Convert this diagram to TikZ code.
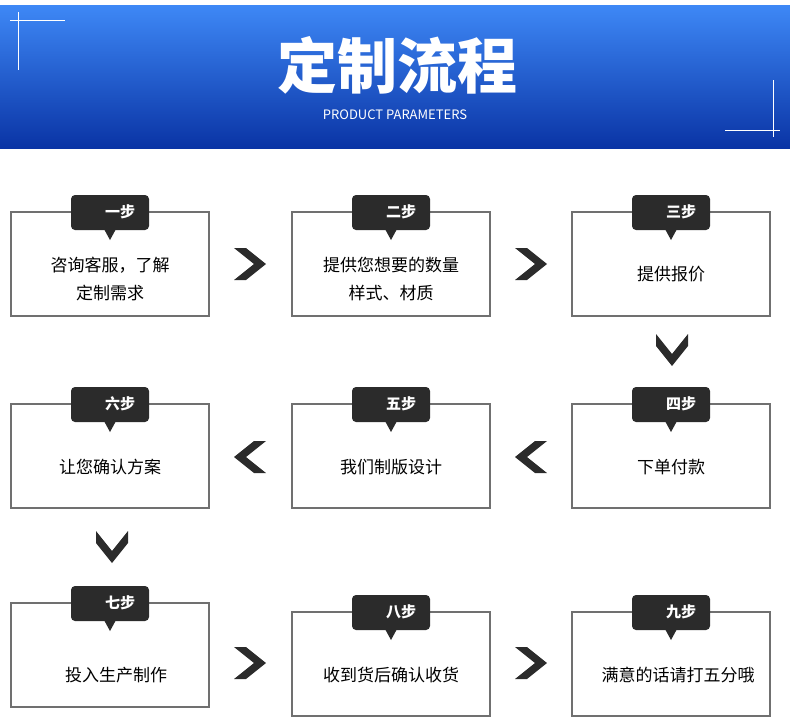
\documentclass[tikz,border=0pt]{standalone}
\usepackage{fontspec}
\setmainfont{Noto Sans CJK SC}
\definecolor{TopBlue}{RGB}{62,136,246}
\definecolor{LowBlue}{RGB}{10,52,165}
\definecolor{TabGray}{HTML}{2B2B2B}
\definecolor{BoxLine}{HTML}{707070}
\tikzset{
  stepbox/.style={draw=BoxLine, line width=1.2pt, fill=white},
  steptab/.style={fill=TabGray, rounded corners=4pt},
  steptxt/.style={font=\fontsize{15}{15}\selectfont\bfseries, text=white},
  boxtxt/.style={font=\fontsize{17}{28}\selectfont, align=center, text=black},
  chev/.style={fill=TabGray},
  deco/.style={white, line width=0.8pt}
}
% step box: center x, top y, tab label, name
\newcommand{\stepcard}[5]{%
  \draw[stepbox] (#1-99,-#2) rectangle (#1+99,-#2-104);
  \fill[steptab] (#1-39,-#2+17) rectangle (#1+39,-#2-18);
  \fill[TabGray] (#1-6,-#2-17) -- (#1+6,-#2-17) -- (#1,-#2-28) -- cycle;
  \node[steptxt] (#4tab) at (#1+10,-#2) {#3};
  \node[boxtxt] (#4) at (#1,-#2-#5) {};
}
\newcommand{\chevright}[2]{\fill[chev] (#1-16,-#2+16) -- (#1-4,-#2+16) -- (#1+16,-#2) -- (#1-4,-#2-16) -- (#1-16,-#2-16) -- (#1+4,-#2) -- cycle;}
\newcommand{\chevleft}[2]{\fill[chev] (#1+16,-#2+16) -- (#1+4,-#2+16) -- (#1-16,-#2) -- (#1+4,-#2-16) -- (#1+16,-#2-16) -- (#1-4,-#2) -- cycle;}
\newcommand{\chevdown}[2]{\fill[chev] (#1-16,-#2+16) -- (#1-16,-#2+4) -- (#1,-#2-16) -- (#1+16,-#2+4) -- (#1+16,-#2+16) -- (#1,-#2-4) -- cycle;}
\begin{document}
\begin{tikzpicture}[x=1pt, y=1pt]
 \useasboundingbox (0,0) rectangle (790,-728);

 %%%%%%%%%% Header %%%%%%%%%%
 \shade[top color=TopBlue, bottom color=LowBlue] (0,-5) rectangle (790,-148);
 \draw[deco] (10,-20) -- (65,-20);
 \draw[deco] (18,-12) -- (18,-70);
 \draw[deco] (725,-130) -- (780,-130);
 \draw[deco] (773,-80) -- (773,-137);
 \node[font=\fontsize{60}{60}\selectfont\bfseries, text=white] (title) at (397,-65) {定制流程};
 \node[font=\fontsize{13}{13}\selectfont, text=white] (subtitle) at (395,-115) {PRODUCT PARAMETERS};

 %%%%%%%%%% Steps %%%%%%%%%%
 \stepcard{110}{212}{一步}{s1}{0}
 \stepcard{391}{212}{二步}{s2}{0}
 \stepcard{671}{212}{三步}{s3}{0}
 \stepcard{671}{404}{四步}{s4}{0}
 \stepcard{391}{404}{五步}{s5}{0}
 \stepcard{110}{404}{六步}{s6}{0}
 \stepcard{110}{603}{七步}{s7}{0}
 \stepcard{391}{612}{八步}{s8}{0}
 \stepcard{671}{612}{九步}{s9}{0}

 \node[boxtxt] at (110,-279) {咨询客服，了解\\定制需求};
 \node[boxtxt] at (391,-279) {提供您想要的数量\\样式、材质};
 \node[boxtxt] at (671,-274) {提供报价};
 \node[boxtxt] at (671,-467) {下单付款};
 \node[boxtxt] at (391,-467) {我们制版设计};
 \node[boxtxt] at (110,-467) {让您确认方案};
 \node[boxtxt] at (116,-675) {投入生产制作};
 \node[boxtxt] at (391,-675) {收到货后确认收货};
 \node[boxtxt] at (678,-675) {满意的话请打五分哦};

 %%%%%%%%%% Arrows %%%%%%%%%%
 \chevright{250}{264}
 \chevright{531}{264}
 \chevdown{672}{350}
 \chevleft{531}{457}
 \chevleft{250}{457}
 \chevdown{112}{547}
 \chevright{250}{663}
 \chevright{531}{663}
\end{tikzpicture}
\end{document}
